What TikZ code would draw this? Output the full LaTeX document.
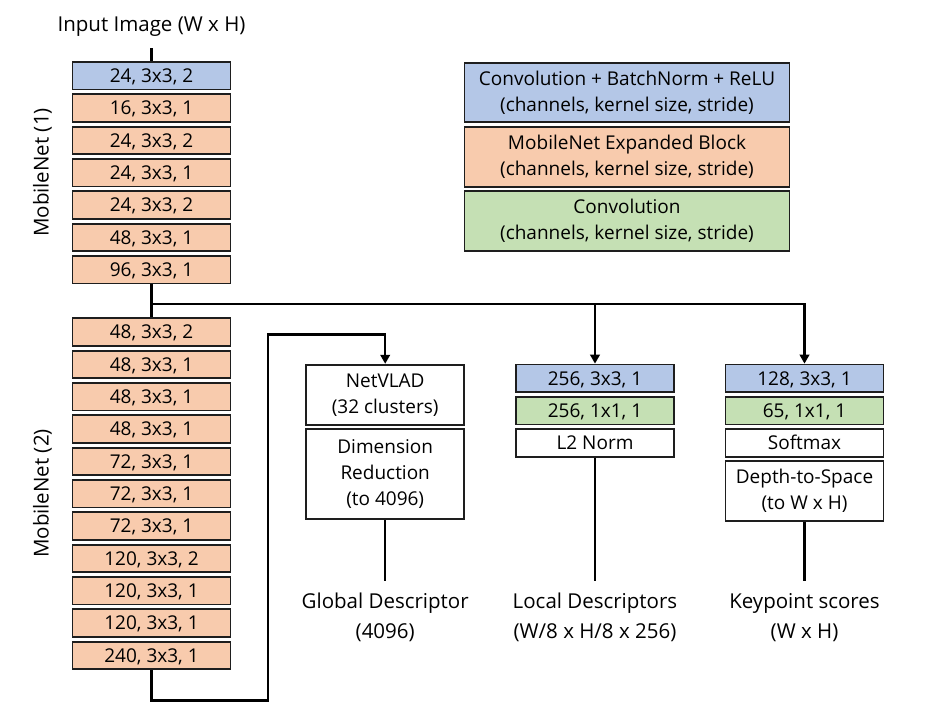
\documentclass[tikz,border=0pt]{standalone}
\usepackage{fontspec}
\setmainfont{Open Sans}
\usetikzlibrary{arrows.meta}
\definecolor{cbrfill}{HTML}{B4C7E7}
\definecolor{mnbfill}{HTML}{F8CBAD}
\definecolor{cnvfill}{HTML}{C5E0B4}
\definecolor{bordercol}{HTML}{1E1E1E}
\begin{document}
\begin{tikzpicture}[x=1pt,y=-1pt,
  blk/.style={draw=bordercol, line width=1.8pt, minimum height=27.5pt, inner sep=0pt,
              font=\fontsize{19}{26}\selectfont, align=center, text=black},
  one/.style={text height=13.6pt, text depth=0pt},
  lblk/.style={blk, one, minimum width=158pt},
  cb/.style={fill=cbrfill}, mb/.style={fill=mnbfill}, cv/.style={fill=cnvfill}, wb/.style={fill=white},
  conn/.style={line width=2.5pt, draw=black},
  arr/.style={conn, -{Triangle[length=9pt,width=9.5pt]}},
  lab/.style={font=\fontsize{20.5}{30}\selectfont, align=center, inner xsep=0pt, inner ysep=12pt},
  side/.style={font=\fontsize{20.5}{24}\selectfont, rotate=90, inner sep=0pt}
]
\useasboundingbox (0,0) rectangle (930,723);

% input
\node[lab, anchor=south, inner ysep=11pt] (input) at (151.5,48) {Input Image (W x H)};

% MobileNet (1)
\node[lblk, cb] (m1-0) at (151.5,75.75) {24, 3x3, 2};
\foreach \t [count=\i] in {{16, 3x3, 1},{24, 3x3, 2},{24, 3x3, 1},{24, 3x3, 2},{48, 3x3, 1},{96, 3x3, 1}}
  \node[lblk, mb] (m1-\i) at (151.5,{75.75+32.33*\i}) {\t};

% MobileNet (2)
\foreach \t [count=\i from 0] in {{48, 3x3, 2},{48, 3x3, 1},{48, 3x3, 1},{48, 3x3, 1},{72, 3x3, 1},{72, 3x3, 1},{72, 3x3, 1},{120, 3x3, 2},{120, 3x3, 1},{120, 3x3, 1},{240, 3x3, 1}}
  \node[lblk, mb] (m2-\i) at (151.5,{332.05+32.33*\i}) {\t};

\node[side] (mn1) at (42.5,172.5) {MobileNet (1)};
\node[side] (mn2) at (42.5,493.5) {MobileNet (2)};

% legend
\node[blk, cb, minimum width=325pt, minimum height=59.5pt] (leg1) at (627,92.5) {Convolution + BatchNorm + ReLU\\(channels, kernel size, stride)};
\node[blk, mb, minimum width=325pt, minimum height=59.5pt] (leg2) at (627,157) {MobileNet Expanded Block\\(channels, kernel size, stride)};
\node[blk, cv, minimum width=325pt, minimum height=59.5pt] (leg3) at (627,221) {Convolution\\(channels, kernel size, stride)};

% global branch
\node[blk, wb, minimum width=158pt, minimum height=60pt] (net) at (385.2,394.7) {NetVLAD\\(32 clusters)};
\node[blk, wb, minimum width=158pt, minimum height=90pt] (dim) at (385.2,474.3) {Dimension\\Reduction\\(to 4096)};

% local branch
\node[blk, one, cb, minimum width=158pt] (lc1) at (595,378.3) {256, 3x3, 1};
\node[blk, one, cv, minimum width=158pt] (lc2) at (595,410.8) {256, 1x1, 1};
\node[blk, one, wb, minimum width=158pt] (lc3) at (595,443) {L2 Norm};

% keypoint branch
\node[blk, one, cb, minimum width=158pt] (kp1) at (804.5,378.3) {128, 3x3, 1};
\node[blk, one, cv, minimum width=158pt] (kp2) at (804.5,410.8) {65, 1x1, 1};
\node[blk, one, wb, minimum width=158pt] (kp3) at (804.5,443) {Softmax};
\node[blk, wb, minimum width=158pt, minimum height=59.4pt] (kp4) at (804.5,491) {Depth-to-Space\\(to W x H)};

% outputs
\node[lab, anchor=north] (gd) at (385.2,581) {Global Descriptor\\(4096)};
\node[lab, anchor=north] (ld) at (595,581) {Local Descriptors\\(W/8 x H/8 x 256)};
\node[lab, anchor=north] (ks) at (804.5,581) {Keypoint scores\\(W x H)};

% connectors
\draw[conn] (input.south) -- (m1-0.north);
\draw[conn] (m1-6.south) -- (m2-0.north);
\coordinate (split) at (151.5,304);
\draw[arr] (split) -| (lc1.north);
\draw[arr] (split) -| (kp1.north);
\draw[arr] (m2-10.south) -- ++(0,30.5) -- ++(116.5,0) -- ++(0,-366) -| (net.north);
\draw[conn] (dim.south) -- (gd.north);
\draw[conn] (lc3.south) -- (ld.north);
\draw[conn] (kp4.south) -- (ks.north);
\end{tikzpicture}
\end{document}
